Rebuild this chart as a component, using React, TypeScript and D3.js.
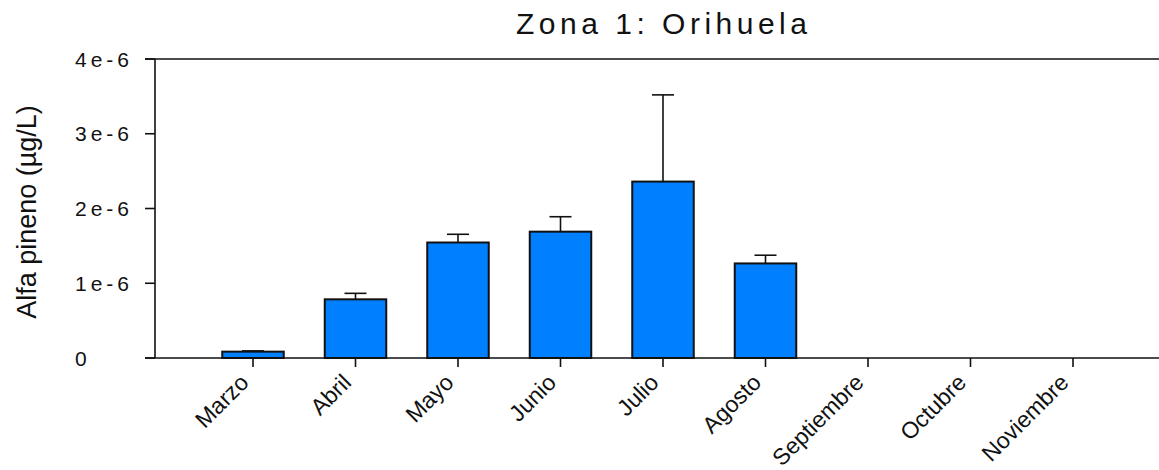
import React, { useEffect, useRef } from 'react';
import * as d3 from 'd3';

const months = ['Marzo', 'Abril', 'Mayo', 'Junio', 'Julio', 'Agosto', 'Septiembre', 'Octubre', 'Noviembre'];
const means = [0.085e-6, 0.785e-6, 1.545e-6, 1.69e-6, 2.36e-6, 1.265e-6, null, null, null];
const errors = [0.01e-6, 0.08e-6, 0.11e-6, 0.2e-6, 1.16e-6, 0.11e-6, null, null, null];
const yTicks = [0, 1e-6, 2e-6, 3e-6, 4e-6];
const yTickLabels = ['0', '1e-6', '2e-6', '3e-6', '4e-6'];

const W = 1159;
const H = 470;
const FONT = '"Liberation Sans", Arial, Helvetica, sans-serif';

const App = () => {
  const ref = useRef<SVGSVGElement>(null);

  useEffect(() => {
    const svg = d3.select(ref.current).attr('width', W).attr('height', H);
    svg.selectAll('*').remove();

    const x = d3.scaleBand<string>()
      .domain(months)
      .range([201.75, 1124.25])
      .paddingInner(0.4)
      .paddingOuter(0.2);
    const y = d3.scaleLinear().domain([0, 4e-6]).range([358, 59]);

    const rows = months.map((m, i) => ({ m, v: means[i], e: errors[i] }))
      .filter(d => d.v != null) as { m: string; v: number; e: number }[];

    // error bars (upper only)
    const eb = svg.append('g').attr('stroke', '#111').attr('stroke-width', 1.6);
    rows.forEach(d => {
      const cx = x(d.m)! + x.bandwidth() / 2;
      eb.append('line').attr('x1', cx).attr('x2', cx).attr('y1', y(d.v)).attr('y2', y(d.v + d.e));
      eb.append('line').attr('x1', cx - 11).attr('x2', cx + 11).attr('y1', y(d.v + d.e)).attr('y2', y(d.v + d.e));
    });

    // bars
    svg.append('g').selectAll('rect')
      .data(rows)
      .enter().append('rect')
      .attr('x', d => x(d.m)!)
      .attr('y', d => y(d.v))
      .attr('width', x.bandwidth())
      .attr('height', d => y(0) - y(d.v))
      .attr('fill', '#0080ff')
      .attr('stroke', '#111')
      .attr('stroke-width', 2);

    // frame lines
    const ax = svg.append('g').attr('stroke', '#111').attr('stroke-width', 1.6);
    ax.append('line').attr('x1', 145).attr('x2', W).attr('y1', y(0)).attr('y2', y(0));
    ax.append('line').attr('x1', 145).attr('x2', W).attr('y1', y(4e-6)).attr('y2', y(4e-6));
    ax.append('line').attr('x1', 155).attr('x2', 155).attr('y1', y(4e-6)).attr('y2', y(0));

    // y ticks
    yTicks.forEach((t, i) => {
      ax.append('line').attr('x1', 145).attr('x2', 155).attr('y1', y(t)).attr('y2', y(t));
      svg.append('text')
        .attr('x', 75)
        .attr('y', y(t) + 7.5)
        .attr('font-family', FONT)
        .attr('font-size', 21)
        .attr('letter-spacing', 4)
        .attr('fill', '#111')
        .text(yTickLabels[i]);
    });

    // x ticks and labels
    months.forEach(m => {
      const cx = x(m)! + x.bandwidth() / 2;
      ax.append('line').attr('x1', cx).attr('x2', cx).attr('y1', y(0)).attr('y2', y(0) + 9);
      svg.append('text')
        .attr('transform', `translate(${cx - 3},${384}) rotate(-45)`)
        .attr('text-anchor', 'end')
        .attr('font-family', FONT)
        .attr('font-size', 23)
        .attr('fill', '#111')
        .text(m);
    });

    // y label
    svg.append('text')
      .attr('transform', 'translate(36,212) rotate(-90)')
      .attr('text-anchor', 'middle')
      .attr('font-family', FONT)
      .attr('font-size', 27)
      .attr('fill', '#111')
      .text('Alfa pineno (µg/L)');

    // title
    svg.append('text')
      .attr('x', 516)
      .attr('y', 34)
      .attr('font-family', FONT)
      .attr('font-size', 30)
      .attr('letter-spacing', 4.5)
      .attr('fill', '#111')
      .text('Zona 1: Orihuela');
  }, []);

  return <svg ref={ref} style={{ position: 'absolute', left: 0, top: 0, display: 'block' }}></svg>;
};

export default App;
